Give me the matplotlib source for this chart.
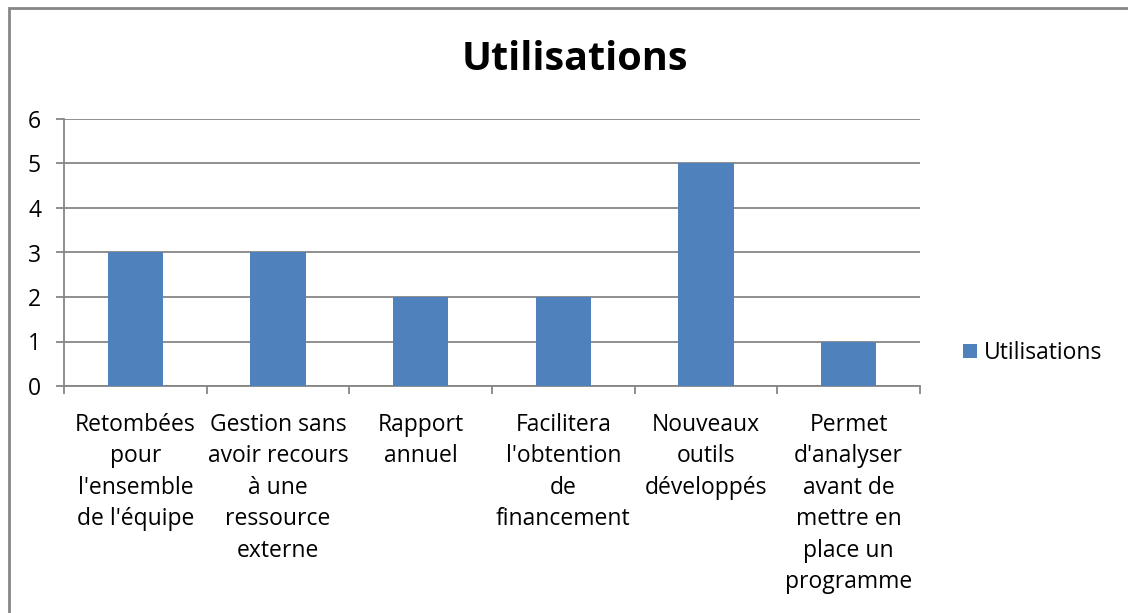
import matplotlib.pyplot as plt
from matplotlib.patches import Rectangle

categories = ["Retombées\npour\nl'ensemble\nde l'équipe",
              "Gestion sans\navoir recours\nà une\nressource\nexterne",
              "Rapport\nannuel",
              "Facilitera\nl'obtention\nde\nfinancement",
              "Nouveaux\noutils\ndéveloppés",
              "Permet\nd'analyser\navant de\nmettre en\nplace un\nprogramme"]
values = [3, 3, 2, 2, 5, 1]
yticks = [0, 1, 2, 3, 4, 5, 6]

plt.rcParams['font.family'] = ['Open Sans', 'DejaVu Sans']
grey = "#868686"
fs = 16.5

fig = plt.figure(figsize=(11.28, 6.13), dpi=100)
ax = fig.add_axes([64/1128, 1 - 386/613, (920 - 64)/1128, (386 - 119)/613])

x = list(range(len(values)))
ax.bar(x, values, width=0.39, color="#4F81BD", label="Utilisations", zorder=3)
ax.set_xlim(-0.5, len(values) - 0.5)
ax.set_ylim(0, 6)
ax.set_yticks(yticks)
ax.set_yticklabels([str(v) for v in yticks], fontsize=fs)
ax.grid(axis="y", color=grey, linewidth=1.3, zorder=0)

# category labels between boundary ticks
ax.set_xticks([i + 0.5 for i in range(-1, len(values))])
ax.set_xticklabels([])
ax.tick_params(axis="x", length=5.5, width=1.3, color=grey)
ax.tick_params(axis="y", length=5.5, width=1.3, color=grey, pad=11)
for i, lab in enumerate(categories):
    ax.text(i, -0.6, lab, ha="center", va="top", fontsize=fs,
            linespacing=1.42, transform=ax.transData)

for side in ["top", "right"]:
    ax.spines[side].set_visible(False)
for side in ["left", "bottom"]:
    ax.spines[side].set_color(grey)
    ax.spines[side].set_linewidth(1.3)

fig.text(575/1128, 1 - 60/613, "Utilisations", ha="center", va="center",
         fontsize=28.5, fontweight="bold")

ax.legend(loc="center left", bbox_to_anchor=(1.05, 0.124), frameon=False,
          fontsize=fs, handlelength=0.6, handleheight=0.6, handletextpad=0.3,
          borderpad=0, borderaxespad=0)

fig.patches.append(Rectangle((8.5/1128, -0.1), 1.2, 1 - 7.5/613 + 0.1,
                             transform=fig.transFigure, fill=False,
                             edgecolor=grey, linewidth=2))

fig.savefig("out.png", dpi=100)
